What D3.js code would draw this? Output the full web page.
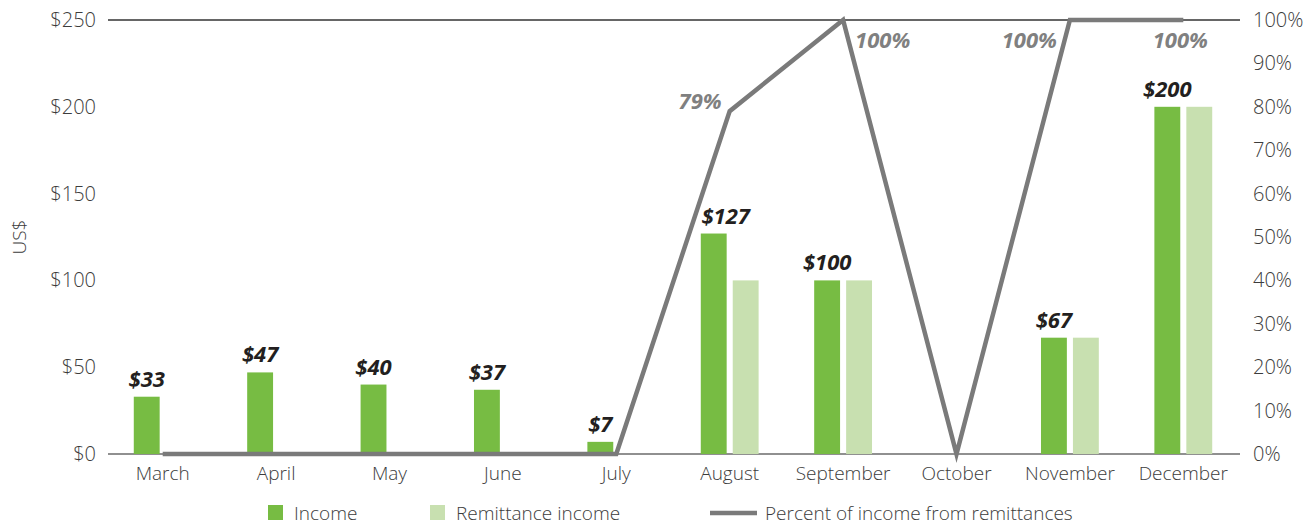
<!DOCTYPE html>
<html>
<head>
<meta charset="utf-8">
<script src="https://cdn.jsdelivr.net/npm/d3@7"></script>
<style>
  body { margin: 0; background: #fff; }
  text { font-family: "Open Sans", "Noto Sans", sans-serif; }
  .tick text { fill: #3c3c3c; font-size: 19px; font-weight: 300; }
  .y .tick text, .y2 .tick text { font-size: 20px; }
</style>
</head>
<body>
<div id="chart"></div>
<script>
var months = ["March", "April", "May", "June", "July", "August", "September", "October", "November", "December"];
var income = [33, 47, 40, 37, 7, 127, 100, 0, 67, 200];
var remittance = [0, 0, 0, 0, 0, 100, 100, 0, 67, 200];
var percentRemit = [0, 0, 0, 0, 0, 79, 100, 0, 100, 100];
var leftTicks = [0, 50, 100, 150, 200, 250];
var rightTicks = [0, 10, 20, 30, 40, 50, 60, 70, 80, 90, 100];
var seriesNames = ["Income", "Remittance income"];
var lineName = "Percent of income from remittances";

var margin = {top: 20, right: 75, bottom: 73, left: 106};
var width = 1315 - margin.left - margin.right,
    height = 527 - margin.top - margin.bottom;

var colors = {"Income": "#77bc43", "Remittance income": "#c8e0b0"};

var data = months.map(function(m, i) {
  return {month: m, income: income[i], remittance: remittance[i], pct: percentRemit[i]};
});

var svg = d3.select("#chart").append("svg")
    .attr("width", width + margin.left + margin.right)
    .attr("height", height + margin.top + margin.bottom)
  .append("g")
    .attr("transform", "translate(" + margin.left + "," + margin.top + ")");

var x0 = d3.scaleBand()
  .domain(months)
  .range([0, width])
  .paddingInner(0.49)
  .paddingOuter(0.245);

var x1 = d3.scaleBand()
  .domain(seriesNames)
  .range([0, x0.bandwidth()])
  .paddingInner(0.19);

var yLeft = d3.scaleLinear().domain([0, 250]).range([height, 0]);
var yRight = d3.scaleLinear().domain([0, 100]).range([height, 0]);

// axes
var leftAxis = d3.axisLeft(yLeft)
  .tickValues(leftTicks)
  .tickSize(0)
  .tickPadding(10)
  .tickFormat(function(d) { return "$" + d; });

var rightAxis = d3.axisRight(yRight)
  .tickValues(rightTicks)
  .tickSize(0)
  .tickPadding(13)
  .tickFormat(function(d) { return d + "%"; });

var bottomAxis = d3.axisBottom(x0)
  .tickSize(0)
  .tickPadding(9);

svg.append("g").attr("class", "y axis").call(leftAxis)
  .call(function(g) { g.select(".domain").remove(); });

svg.append("g").attr("class", "y2 axis")
  .attr("transform", "translate(" + width + ",0)")
  .call(rightAxis)
  .call(function(g) { g.select(".domain").remove(); });

svg.append("g").attr("class", "x axis")
  .attr("transform", "translate(0," + height + ")")
  .call(bottomAxis)
  .call(function(g) {
    g.select(".domain").remove();
    g.selectAll(".tick text").attr("dy", "0.9em");
  });

// top and bottom frame lines
svg.append("line")
  .attr("x1", 2).attr("x2", width)
  .attr("y1", yLeft(250)).attr("y2", yLeft(250))
  .attr("stroke", "#333").attr("stroke-width", 1.3);

svg.append("line")
  .attr("x1", 2).attr("x2", width)
  .attr("y1", yLeft(0)).attr("y2", yLeft(0))
  .attr("stroke", "#222").attr("stroke-width", 1.2);

svg.append("text")
  .attr("transform", "translate(" + (19 - margin.left) + "," + (height / 2) + ") rotate(-90)")
  .attr("text-anchor", "middle")
  .attr("dy", "0.35em")
  .attr("font-size", 19)
  .attr("font-weight", 300)
  .attr("fill", "#3c3c3c")
  .text("US$");

// bars
var groups = svg.selectAll(".group")
  .data(data)
  .enter().append("g")
  .attr("class", "group")
  .attr("transform", function(d) { return "translate(" + x0(d.month) + ",0)"; });

groups.append("rect")
  .attr("x", x1("Income"))
  .attr("width", x1.bandwidth())
  .attr("y", function(d) { return yLeft(d.income); })
  .attr("height", function(d) { return height - yLeft(d.income); })
  .style("fill", colors["Income"]);

groups.append("rect")
  .attr("x", x1("Remittance income"))
  .attr("width", x1.bandwidth())
  .attr("y", function(d) { return yLeft(d.remittance); })
  .attr("height", function(d) { return height - yLeft(d.remittance); })
  .style("fill", colors["Remittance income"]);

// dollar labels
groups.filter(function(d) { return d.income > 0; })
  .append("text")
  .attr("x", function(d) {
    var c = x1("Income") + x1.bandwidth() / 2;
    return d.month == "August" ? c + 12 : c;
  })
  .attr("y", function(d) { return yLeft(d.income) - 10; })
  .attr("text-anchor", "middle")
  .attr("font-size", 22)
  .attr("font-weight", "bold")
  .attr("font-style", "italic")
  .attr("fill", "#231f20")
  .text(function(d) { return "$" + d.income; });

// percent line
var line = d3.line()
  .x(function(d) { return x0(d.month) + x0.bandwidth() / 2; })
  .y(function(d) { return yRight(d.pct); });

svg.append("path")
  .datum(data)
  .attr("d", line)
  .attr("fill", "none")
  .attr("stroke", "#7a7a7a")
  .attr("stroke-width", 4.5)
  .attr("stroke-linejoin", "miter");

// percent labels
var pctLabelPos = {
  "August": {dx: -8, dy: -2, anchor: "end"},
  "September": {dx: 12, dy: 28, anchor: "start"},
  "November": {dx: -13, dy: 28, anchor: "end"},
  "December": {dx: -3, dy: 28, anchor: "middle"}
};

svg.selectAll(".pctLabel")
  .data(data.filter(function(d) { return pctLabelPos[d.month]; }))
  .enter().append("text")
  .attr("class", "pctLabel")
  .attr("x", function(d) { return x0(d.month) + x0.bandwidth() / 2 + pctLabelPos[d.month].dx; })
  .attr("y", function(d) { return yRight(d.pct) + pctLabelPos[d.month].dy; })
  .attr("text-anchor", function(d) { return pctLabelPos[d.month].anchor; })
  .attr("font-size", 22)
  .attr("font-weight", "bold")
  .attr("font-style", "italic")
  .attr("fill", "#808080")
  .text(function(d) { return d.pct + "%"; });

// legend
var legend = svg.append("g")
  .attr("transform", "translate(0," + (height + 59) + ")");

var legendX = [268, 430];
seriesNames.forEach(function(name, i) {
  var lx = legendX[i] - margin.left;
  legend.append("rect")
    .attr("x", lx).attr("y", -8)
    .attr("width", 15).attr("height", 15)
    .style("fill", colors[name]);
  legend.append("text")
    .attr("x", lx + 26).attr("y", 0)
    .attr("dy", "0.35em")
    .attr("font-size", 19)
    .attr("font-weight", 300)
    .attr("fill", "#3c3c3c")
    .text(name);
});

legend.append("line")
  .attr("x1", 710 - margin.left).attr("x2", 757 - margin.left)
  .attr("y1", 0).attr("y2", 0)
  .attr("stroke", "#7a7a7a").attr("stroke-width", 4.5);

legend.append("text")
  .attr("x", 765 - margin.left).attr("y", 0)
  .attr("dy", "0.35em")
  .attr("font-size", 19)
  .attr("font-weight", 300)
  .attr("fill", "#3c3c3c")
  .text(lineName);
</script>
</body>
</html>
